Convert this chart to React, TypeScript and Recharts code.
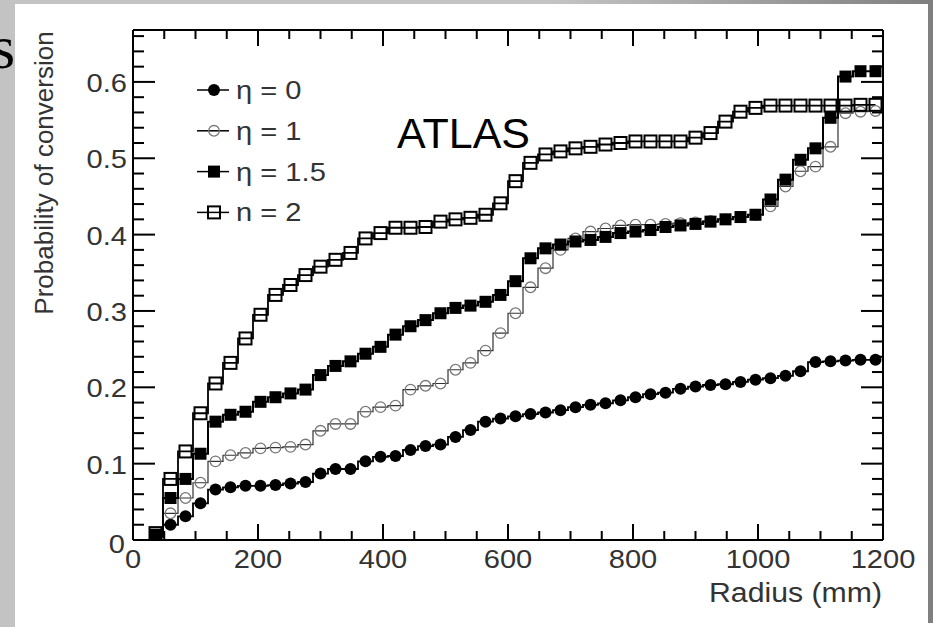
import React from "react";
import { LineChart, Line, XAxis, YAxis, Legend, ReferenceLine } from "recharts";

// bin centres in mm (24 mm bins)
const RADIUS = [
  36, 60, 84, 108, 132, 156, 180, 204, 228, 252,
  276, 300, 324, 348, 372, 396, 420, 444, 468, 492,
  516, 540, 564, 588, 612, 636, 660, 684, 708, 732,
  756, 780, 804, 828, 852, 876, 900, 924, 948, 972,
  996, 1020, 1044, 1068, 1092, 1116, 1140, 1164, 1188,
];

const ETA0 = [
  0.004, 0.020, 0.031, 0.048, 0.066, 0.069, 0.071, 0.071, 0.072, 0.074,
  0.076, 0.087, 0.093, 0.093, 0.103, 0.109, 0.110, 0.118, 0.123, 0.125,
  0.135, 0.144, 0.155, 0.159, 0.162, 0.165, 0.167, 0.170, 0.174, 0.177,
  0.179, 0.183, 0.187, 0.191, 0.193, 0.198, 0.201, 0.203, 0.204, 0.207,
  0.210, 0.212, 0.215, 0.221, 0.233, 0.234, 0.235, 0.236, 0.236,
];

const ETA1 = [
  0.006, 0.035, 0.055, 0.075, 0.103, 0.111, 0.114, 0.120, 0.121, 0.122,
  0.125, 0.143, 0.152, 0.152, 0.168, 0.174, 0.176, 0.197, 0.202, 0.205,
  0.223, 0.232, 0.248, 0.271, 0.297, 0.331, 0.356, 0.380, 0.395, 0.404,
  0.408, 0.412, 0.413, 0.413, 0.414, 0.415, 0.416, 0.418, 0.420, 0.423,
  0.426, 0.437, 0.463, 0.483, 0.489, 0.515, 0.559, 0.561, 0.562,
];

const ETA15 = [
  0.007, 0.055, 0.080, 0.113, 0.155, 0.164, 0.168, 0.181, 0.187, 0.192,
  0.197, 0.216, 0.228, 0.234, 0.244, 0.253, 0.269, 0.280, 0.288, 0.297,
  0.304, 0.307, 0.312, 0.321, 0.339, 0.369, 0.382, 0.387, 0.391, 0.393,
  0.397, 0.402, 0.404, 0.406, 0.410, 0.412, 0.414, 0.417, 0.420, 0.423,
  0.426, 0.446, 0.472, 0.498, 0.513, 0.553, 0.607, 0.614, 0.614,
];

const ETA2 = [
  0.009, 0.080, 0.116, 0.166, 0.205, 0.232, 0.264, 0.295, 0.321, 0.334,
  0.347, 0.358, 0.367, 0.376, 0.395, 0.402, 0.409, 0.409, 0.410, 0.417,
  0.420, 0.422, 0.426, 0.441, 0.470, 0.494, 0.505, 0.509, 0.513, 0.515,
  0.518, 0.520, 0.522, 0.522, 0.522, 0.522, 0.527, 0.533, 0.548, 0.561,
  0.566, 0.569, 0.569, 0.569, 0.569, 0.569, 0.569, 0.570, 0.570,
];

const X_TICKS = [
  0, 50, 100, 150, 200, 250, 300, 350, 400, 450, 500, 550, 600,
  650, 700, 750, 800, 850, 900, 950, 1000, 1050, 1100, 1150, 1200,
];
const X_LABELED = [0, 200, 400, 600, 800, 1000, 1200];

const Y_TICKS = [
  0, 0.02, 0.04, 0.06, 0.08, 0.1, 0.12, 0.14, 0.16, 0.18, 0.2, 0.22,
  0.24, 0.26, 0.28, 0.3, 0.32, 0.34, 0.36, 0.38, 0.4, 0.42, 0.44, 0.46,
  0.48, 0.5, 0.52, 0.54, 0.56, 0.58, 0.6, 0.62, 0.64, 0.66,
];
const Y_LABELED = [0, 0.1, 0.2, 0.3, 0.4, 0.5, 0.6];
const Y_LABELS = ["0", "0.1", "0.2", "0.3", "0.4", "0.5", "0.6"];
const Y_MAX = 0.668;

const SERIES = [
  { key: "eta0", name: "η = 0", values: ETA0, marker: "circle", stroke: "#000", width: 1.8 },
  { key: "eta1", name: "η = 1", values: ETA1, marker: "ocircle", stroke: "#333", width: 1.2 },
  { key: "eta15", name: "η = 1.5", values: ETA15, marker: "square", stroke: "#000", width: 2 },
  { key: "eta2", name: "η = 2", values: ETA2, marker: "osquare", stroke: "#000", width: 1.8 },
];

const rows = RADIUS.map((r, i) => {
  const row: Record<string, number> = { r };
  for (const s of SERIES) row[s.key] = s.values[i];
  return row;
});

const FONT = "'Liberation Sans', Arial, Helvetica, sans-serif";
const LABEL = "#333";
const PLOT_TOP = 30;
const PLOT_BOTTOM = 540;
const PLOT_LEFT = 133;
const PLOT_RIGHT = 883;

function Marker({ kind, cx, cy }: { kind: string; cx: number; cy: number }) {
  if (kind === "circle") return <circle cx={cx} cy={cy} r={6} fill="#000" />;
  if (kind === "ocircle")
    return <circle cx={cx} cy={cy} r={5.3} fill="none" stroke="#777" strokeWidth={1.3} />;
  if (kind === "square") return <rect x={cx - 6} y={cy - 6} width={12} height={12} fill="#000" />;
  return <rect x={cx - 6} y={cy - 6} width={12} height={12} fill="none" stroke="#000" strokeWidth={2} />;
}

function XTick(props: any) {
  const { x, payload } = props;
  const v = payload.value;
  const major = v % 200 === 0;
  const len = major ? 16 : 9;
  return (
    <g>
      <line x1={x} y1={PLOT_BOTTOM} x2={x} y2={PLOT_BOTTOM - len} stroke="#000" strokeWidth={2} />
      <line x1={x} y1={PLOT_TOP} x2={x} y2={PLOT_TOP + len} stroke="#000" strokeWidth={2} />
      {X_LABELED.includes(v) && (
        <text
          transform={`translate(${x},568) scale(1.12,1)`}
          textAnchor="middle"
          fontFamily={FONT}
          fontSize={26}
          fill={LABEL}
        >
          {String(v)}
        </text>
      )}
    </g>
  );
}

function YTick(props: any) {
  const { y, payload } = props;
  const v = payload.value;
  const idx = Y_LABELED.indexOf(v);
  const len = idx >= 0 ? 22 : 11;
  return (
    <g>
      <line x1={PLOT_LEFT} y1={y} x2={PLOT_LEFT + len} y2={y} stroke="#000" strokeWidth={2} />
      <line x1={PLOT_RIGHT} y1={y} x2={PLOT_RIGHT - len} y2={y} stroke="#000" strokeWidth={2} />
      {idx >= 0 && (
        <text
          transform={`translate(${idx === 0 ? 125 : 127},${y + (idx === 0 ? 13 : 10)}) scale(1.12,1)`}
          textAnchor="end"
          fontFamily={FONT}
          fontSize={26}
          fill={LABEL}
        >
          {Y_LABELS[idx]}
        </text>
      )}
    </g>
  );
}

function LegendBox(props: any) {
  const items = props.payload || [];
  return (
    <svg width={200} height={153}>
      {items.map((it: any, i: number) => {
        const s = SERIES.find((d) => d.key === it.dataKey) || SERIES[i];
        const cy = 22 + i * 40.8;
        return (
          <g key={s.key}>
            <line x1={7} y1={cy} x2={39} y2={cy} stroke="#000" strokeWidth={1.5} />
            <Marker kind={s.marker} cx={24} cy={cy} />
            <text
              transform={`translate(46,${cy + 9}) scale(1.12,1)`}
              fontFamily={FONT}
              fontSize={26}
              fill={LABEL}
            >
              {it.value}
            </text>
          </g>
        );
      })}
    </svg>
  );
}

export default function App() {
  return (
    <div style={{ position: "absolute", left: 0, top: 0, width: 933, height: 627, background: "#fff", overflow: "hidden" }}>
      <div style={{ position: "absolute", left: 0, top: 0, width: 15, height: 627, background: "#c3c3c3" }} />
      <div
        style={{
          position: "absolute", left: 0, top: 0, width: 928, height: 4,
          background: "linear-gradient(to right, #c3c3c3, #c3c3c3 60%, #808080)",
        }}
      />
      <div style={{ position: "absolute", left: 928, top: 0, width: 5, height: 623, background: "#808080" }} />
      <svg style={{ position: "absolute", left: 0, top: 0 }} width={15} height={100}>
        <text x={-9} y={68} fontFamily="'Liberation Serif', 'Times New Roman', serif" fontSize={62} fill="#000">
          s
        </text>
      </svg>

      <div style={{ position: "absolute", left: 0, top: 0 }}>
        <LineChart width={933} height={627} data={rows} margin={{ top: 30, right: 50, bottom: 57, left: 73 }}>
          <XAxis
            dataKey="r"
            type="number"
            domain={[0, 1200]}
            ticks={X_TICKS}
            interval={0}
            height={30}
            tickLine={false}
            tickSize={0}
            tickMargin={0}
            axisLine={{ stroke: "#000", strokeWidth: 2 }}
            tick={<XTick />}
            allowDataOverflow
          />
          <YAxis
            type="number"
            domain={[0, Y_MAX]}
            ticks={Y_TICKS}
            interval={0}
            width={60}
            tickLine={false}
            tickSize={0}
            tickMargin={0}
            axisLine={{ stroke: "#000", strokeWidth: 2 }}
            tick={<YTick />}
            allowDataOverflow
          />
          <ReferenceLine y={Y_MAX} stroke="#000" strokeWidth={2} />
          <ReferenceLine x={1200} stroke="#000" strokeWidth={2} />
          {SERIES.map((s) => (
            <Line
              key={s.key}
              dataKey={s.key}
              name={s.name}
              type="step"
              stroke={s.stroke}
              strokeWidth={s.width}
              isAnimationActive={false}
              dot={(p: any) => <Marker key={`${s.key}-${p.index}`} kind={s.marker} cx={p.cx} cy={p.cy} />}
              activeDot={false}
            />
          ))}
          <Legend
            layout="vertical"
            align="center"
            verticalAlign="middle"
            content={<LegendBox />}
            wrapperStyle={{ position: "absolute", left: 190, top: 68, width: 200, height: 153, overflow: "hidden" }}
          />
        </LineChart>
      </div>

      <svg style={{ position: "absolute", left: 0, top: 0, pointerEvents: "none" }} width={933} height={627}>
        <text
          transform="translate(53,173) rotate(-90)"
          textAnchor="middle"
          fontFamily={FONT}
          fontSize={26}
          fill={LABEL}
        >
          Probability of conversion
        </text>
        <text
          transform="translate(882,602) scale(1.12,1)"
          textAnchor="end"
          fontFamily={FONT}
          fontSize={27}
          fill={LABEL}
        >
          Radius (mm)
        </text>
        <text x={397} y={148} fontFamily={FONT} fontSize={43} fill="#000">
          ATLAS
        </text>
      </svg>
    </div>
  );
}
